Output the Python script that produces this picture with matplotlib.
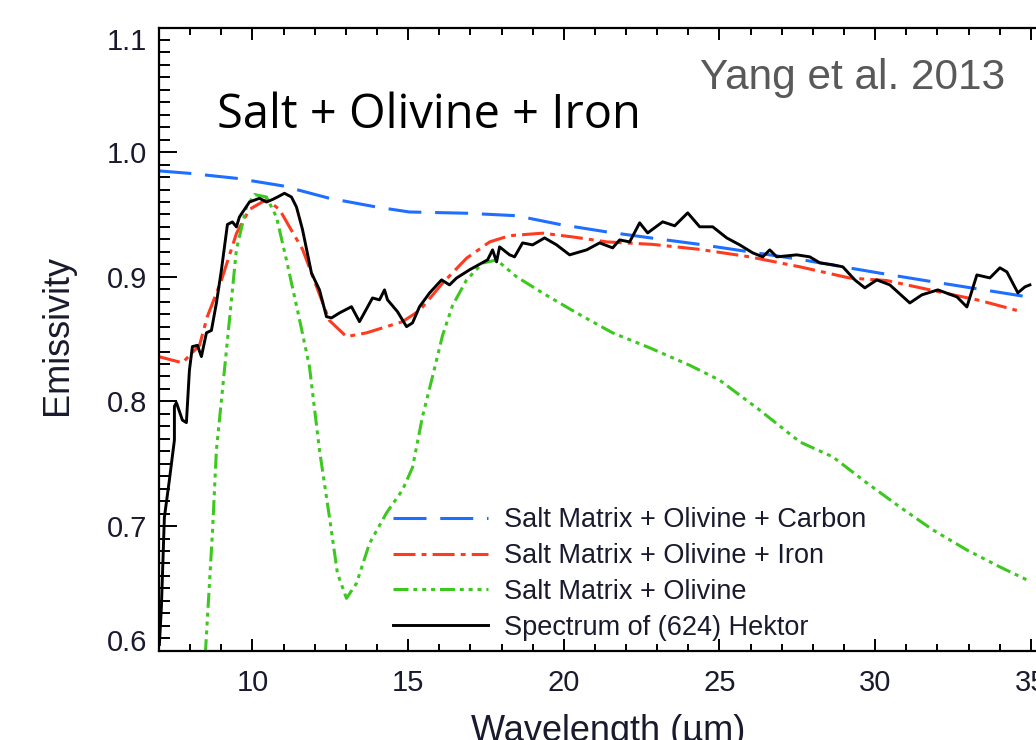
import matplotlib.pyplot as plt
from matplotlib.ticker import MultipleLocator

# salt matrix + olivine + carbon model
wl_carbon = [6.98, 7.98, 9.49, 10.96, 12.47, 13.98, 15.04, 16.88, 18.48, 19.87,
             21.38, 22.85, 24.36, 27.58, 28.96, 30.37, 31.85, 33.36, 34.87]
em_carbon = [0.985, 0.983, 0.979, 0.973, 0.963, 0.956, 0.952, 0.951, 0.949, 0.942,
             0.936, 0.931, 0.926, 0.914, 0.908, 0.902, 0.896, 0.890, 0.884]

# salt matrix + olivine + iron model
wl_iron = [6.98, 7.75, 8.30, 8.55, 9.00, 9.49, 9.90, 10.45, 10.87, 11.19, 11.61,
           12.06, 12.47, 13.02, 13.66, 14.82, 15.37, 16.11, 16.88, 17.62, 18.26,
           19.32, 20.28, 21.38, 22.85, 24.36, 25.97, 27.58, 29.18, 30.37, 31.85,
           33.36, 34.55]
em_iron = [0.836, 0.831, 0.845, 0.868, 0.897, 0.935, 0.954, 0.962, 0.954, 0.940, 0.922,
           0.892, 0.865, 0.852, 0.855, 0.864, 0.873, 0.895, 0.915, 0.928, 0.933,
           0.935, 0.932, 0.928, 0.926, 0.922, 0.916, 0.908, 0.899, 0.897, 0.889,
           0.881, 0.873]

# salt matrix + olivine model
wl_olivine = [8.40, 8.715, 8.843, 9.165, 9.486, 9.807, 10.064, 10.450, 10.771, 11.092,
              11.510, 11.831, 12.153, 12.474, 12.731, 13.020, 13.341, 13.759, 14.305,
              14.820, 15.141, 15.463, 15.784, 16.106, 16.427, 16.877, 17.391, 17.841,
              18.484, 19.319, 20.412, 21.569, 22.759, 24.044, 25.008, 26.293, 27.580,
              28.640, 29.732, 30.793, 31.853, 32.945, 34.005, 34.873]
em_olivine = [0.560, 0.6945, 0.761, 0.841, 0.922, 0.956, 0.966, 0.964, 0.948, 0.9135,
              0.866, 0.828, 0.761, 0.707, 0.662, 0.642, 0.654, 0.686, 0.7105,
              0.729, 0.747, 0.788, 0.820, 0.853, 0.877, 0.8975, 0.911, 0.9135,
              0.900, 0.887, 0.871, 0.855, 0.843, 0.829, 0.817, 0.793, 0.7675,
              0.7555, 0.7346, 0.7153, 0.6969, 0.6808, 0.6672, 0.6568]

# (624) Hektor spectrum
wl_hektor = [7.012, 7.076, 7.172, 7.333, 7.494, 7.494, 7.558, 7.751, 7.879, 7.976,
             8.072, 8.233, 8.361, 8.522, 8.683, 8.843, 9.004, 9.197, 9.357, 9.486,
             9.582, 9.904, 10.225, 10.450, 10.643, 10.804, 11.028, 11.253, 11.414,
             11.607, 11.896, 12.153, 12.378, 12.539, 12.796, 13.181, 13.438, 13.856,
             14.081, 14.242, 14.338, 14.659, 14.949, 15.141, 15.366, 15.688, 16.073,
             16.330, 16.555, 16.973, 17.552, 17.712, 17.841, 17.937, 18.259, 18.419,
             18.676, 18.998, 19.383, 19.769, 20.187, 20.733, 21.151, 21.569, 21.794,
             22.115, 22.436, 22.693, 23.175, 23.561, 23.979, 24.364, 24.782, 25.232,
             25.650, 26.067, 26.389, 26.614, 26.839, 27.482, 27.900, 28.221, 28.639,
             28.960, 29.346, 29.668, 30.053, 30.471, 31.113, 31.499, 32.013, 32.624,
             32.945, 33.266, 33.684, 34.005, 34.230, 34.583, 34.808, 34.969]
em_hektor = [0.605, 0.635, 0.707, 0.737, 0.769, 0.796, 0.799, 0.785, 0.783, 0.825,
             0.844, 0.845, 0.836, 0.855, 0.857, 0.879, 0.9055, 0.942, 0.944, 0.940,
             0.948, 0.960, 0.963, 0.960, 0.962, 0.964, 0.967, 0.964, 0.956,
             0.938, 0.903, 0.8895, 0.868, 0.867, 0.871, 0.876, 0.864, 0.883,
             0.8815, 0.8895, 0.8815, 0.872, 0.860, 0.863, 0.876, 0.887, 0.8975,
             0.8935, 0.899, 0.9056, 0.9136, 0.9216, 0.912, 0.924, 0.9176, 0.916,
             0.9272, 0.9256, 0.9312, 0.9256, 0.9176, 0.9216, 0.9272, 0.9232, 0.9296,
             0.928, 0.9433, 0.9352, 0.9441, 0.9409, 0.9513, 0.9401, 0.9401, 0.9312,
             0.9256, 0.9192, 0.916, 0.9216, 0.916, 0.9176, 0.916, 0.9112, 0.9096,
             0.908, 0.8975, 0.8911, 0.8975, 0.8935, 0.879, 0.8855, 0.8895, 0.8839,
             0.8758, 0.9015, 0.8991, 0.9072, 0.9039, 0.8871, 0.8919, 0.8935]

labels = ['Salt Matrix + Olivine + Carbon', 'Salt Matrix + Olivine + Iron',
          'Salt Matrix + Olivine', 'Spectrum of (624) Hektor']

sans = 'Liberation Sans'
txt = '#1a1a2e'

fig = plt.figure(figsize=(10.36, 7.40), dpi=100)
ax = fig.add_axes([0.1535, 0.1207, 0.8716, 0.8421])

ax.plot(wl_carbon, em_carbon, color='#1e6eff', lw=2.2, dashes=(10.8, 4.5), label=labels[0])
ax.plot(wl_iron, em_iron, color='#ff3b1f', lw=2.2, dashes=(7.2, 2.0, 1.6, 2.0), label=labels[1])
ax.plot(wl_olivine, em_olivine, color='#3cc81e', lw=2.2,
        dashes=(4.9, 1.6, 1.3, 1.6, 1.3, 1.6, 1.3, 1.6), label=labels[2])
ax.plot(wl_hektor, em_hektor, color='black', lw=2.1, label=labels[3])

ax.set_xlim(7, 36)
ax.set_ylim(0.6, 1.1)
ax.set_xticks([10, 15, 20, 25, 30, 35])
ax.set_yticks([0.6, 0.7, 0.8, 0.9, 1.0, 1.1])
ax.set_yticklabels(['0.6', '0.7', '0.8', '0.9', '1.0', '1.1'])
ax.xaxis.set_minor_locator(MultipleLocator(1))
ax.yaxis.set_minor_locator(MultipleLocator(0.01))

for s in ax.spines.values():
    s.set_linewidth(1.6)
ax.tick_params(which='both', direction='in', top=True, right=True, width=1.4,
               labelsize=21, labelcolor=txt)
ax.tick_params(axis='x', which='major', length=8.6, pad=13)
ax.tick_params(axis='x', which='minor', length=4.7)
ax.tick_params(axis='y', which='major', length=13, pad=8.6)
ax.tick_params(axis='y', which='minor', length=8)
for lab in ax.get_xticklabels() + ax.get_yticklabels():
    lab.set_fontfamily(sans)

# keep the end labels inside the axis range
yt = ax.yaxis.get_major_ticks()
yt[0].label1.set_verticalalignment('baseline')
yt[-1].label1.set_verticalalignment('top')

fig.text(58 / 1036, 1 - 335 / 740, 'Emissivity', rotation=90, ha='center', va='center',
         fontsize=26, family=sans, color=txt)
fig.text(608 / 1036, 1 - 741 / 740, 'Wavelength (\u00b5m)', ha='center', va='baseline',
         fontsize=26, family=sans, color=txt)

fig.text(217 / 1036, 1 - 128 / 740, 'Salt + Olivine + Iron', ha='left', va='baseline',
         fontsize=33.8, family='Open Sans', color='black')
fig.text(1005 / 1036, 1 - 89 / 740, 'Yang et al. 2013', ha='right', va='baseline',
         fontsize=30.5, family=sans, color='#595959')

ax.legend(loc='center left', bbox_to_anchor=(393 / 1036, 1 - 574 / 740),
          bbox_transform=fig.transFigure, frameon=False, borderpad=0, borderaxespad=0,
          handlelength=3.5, handletextpad=0.6, labelspacing=0.36,
          prop={'family': sans, 'size': 19.5}, labelcolor=txt)

fig.savefig('out.png', dpi=100)
